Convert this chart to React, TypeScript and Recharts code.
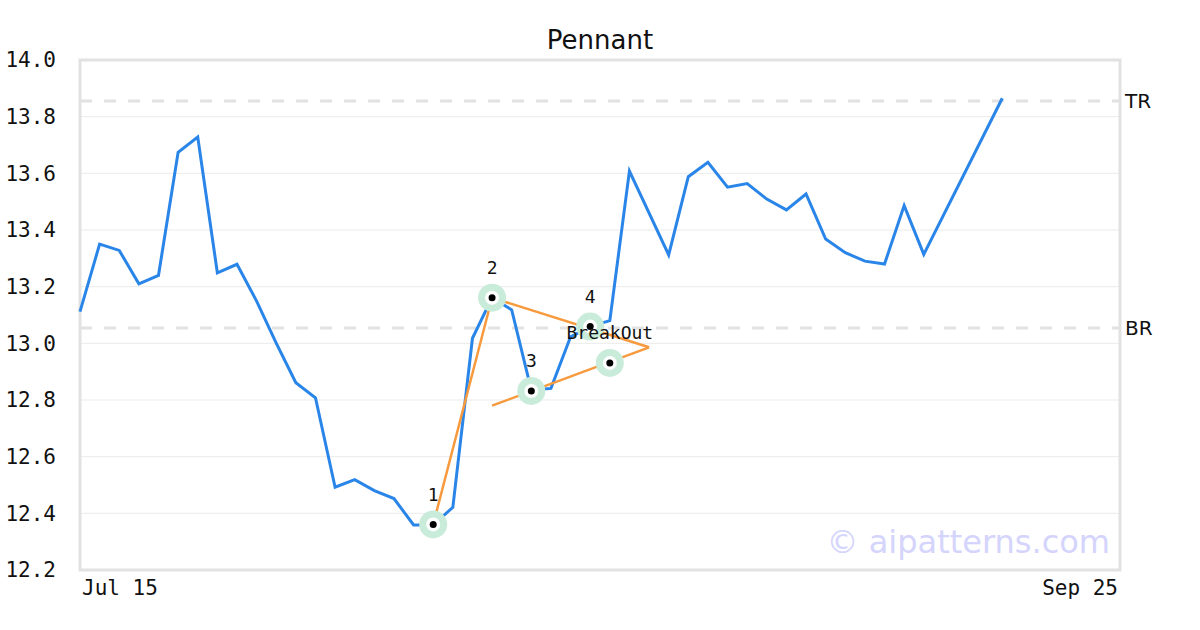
import {
  ComposedChart,
  Line,
  Scatter,
  XAxis,
  YAxis,
  CartesianGrid,
  ReferenceLine,
  ReferenceArea,
} from "recharts"

// closing prices, one per trading day (null = no vertex visible)
const prices: (number | null)[] = [
  13.112, 13.35, 13.328, 13.21, 13.24, 13.674, 13.728, 13.249, 13.279, 13.149,
  13.001, 12.861, 12.808, 12.492, 12.519, 12.48, 12.452, 12.359, 12.359, 12.421,
  13.018, 13.161, 13.118, 12.835, 12.841, 13.023, 13.059, 13.08, 13.608, null,
  13.312, 13.588, 13.639, 13.551, 13.564, 13.509, 13.471, 13.527, 13.368, 13.32,
  13.29, 13.28, 13.486, 13.314, null, null, null, 13.865,
]

const xTicks = [0, 53]
const xTickLabels = ["Jul 15", "Sep 25"]
const yTicks = [12.2, 12.4, 12.6, 12.8, 13.0, 13.2, 13.4, 13.6, 13.8, 14.0]

const topResistance = 13.855
const bottomResistance = 13.054

// pattern pivots
const pivotX = [18, 21, 23, 26, 27]
const pivotY = [12.361, 13.161, 12.832, 13.059, 12.931]
const pivotLabels = ["1", "2", "3", "4", "BreakOut"]

// pennant outline
const upperX = [18, 21, 29]
const upperY = [12.361, 13.161, 12.986]
const lowerX = [21, 29]
const lowerY = [12.78, 12.986]

const MONO = "DejaVu Sans Mono"
const SANS = "DejaVu Sans"

const priceData = prices
  .map((p, i) => ({ x: i, price: p }))
  .filter((d) => d.price !== null)
const upperData = upperX.map((x, i) => ({ x, upper: upperY[i] }))
const lowerData = lowerX.map((x, i) => ({ x, lower: lowerY[i] }))
const pivotData = pivotX.map((x, i) => ({
  x,
  pivot: pivotY[i],
  label: pivotLabels[i],
}))

function PivotMarker(props: any) {
  const { cx, cy, payload } = props
  return (
    <g>
      <circle cx={cx} cy={cy} r={14} fill="#c8ecd9" />
      <circle cx={cx} cy={cy} r={7} fill="#ffffff" />
      <circle cx={cx} cy={cy} r={3.5} fill="#000000" />
      <text
        x={cx}
        y={cy - 30}
        dy="0.355em"
        textAnchor="middle"
        fontFamily={MONO}
        fontSize={18}
        fill="#111"
      >
        {payload.label}
      </text>
    </g>
  )
}

function XTick(props: any) {
  const { x, y, payload } = props
  const first = payload.value === xTicks[0]
  return (
    <text
      x={first ? x + 2 : x - 2}
      y={y}
      dy="0.71em"
      textAnchor={first ? "start" : "end"}
      fontFamily={MONO}
      fontSize={21}
      fill="#111"
    >
      {xTickLabels[xTicks.indexOf(payload.value)]}
    </text>
  )
}

export default function App() {
  return (
    <div
      style={{
        position: "fixed",
        left: 0,
        top: 0,
        width: 1200,
        height: 630,
        background: "#fff",
      }}
    >
      <div
        style={{
          position: "absolute",
          left: 0,
          top: 27,
          width: 1200,
          textAlign: "center",
          fontFamily: SANS,
          fontSize: 26,
          lineHeight: 1,
          color: "#111",
        }}
      >
        Pennant
      </div>
      <ComposedChart
        width={1200}
        height={630}
        margin={{ top: 60, right: 80, left: 0, bottom: 0 }}
      >
        <CartesianGrid vertical={false} stroke="#ebebeb" strokeWidth={1} />
        <XAxis
          type="number"
          dataKey="x"
          domain={[0, 53]}
          ticks={xTicks}
          tick={<XTick />}
          tickLine={false}
          axisLine={false}
          tickSize={0}
          tickMargin={10}
          height={60}
          allowDuplicatedCategory={false}
        />
        <YAxis
          type="number"
          domain={[12.2, 14.0]}
          ticks={yTicks}
          tickFormatter={(v: number) => v.toFixed(1)}
          tick={{ fontFamily: MONO, fontSize: 21, fill: "#111" }}
          tickLine={false}
          axisLine={false}
          tickSize={0}
          tickMargin={24}
          width={80}
          interval={0}
        />
        <ReferenceArea
          x1={0}
          x2={53}
          y1={12.2}
          y2={14.0}
          fill="none"
          stroke="#e2e2e2"
          strokeWidth={3}
          ifOverflow="visible"
        />
        <ReferenceLine
          y={topResistance}
          stroke="#e2e2e2"
          strokeWidth={3}
          strokeDasharray="12 12"
          label={{
            value: "TR",
            position: "right",
            fontFamily: SANS,
            fontSize: 20,
            fill: "#111",
          }}
        />
        <ReferenceLine
          y={bottomResistance}
          stroke="#e2e2e2"
          strokeWidth={3}
          strokeDasharray="12 12"
          label={{
            value: "BR",
            position: "right",
            fontFamily: SANS,
            fontSize: 20,
            fill: "#111",
          }}
        />
        <Line
          data={priceData}
          dataKey="price"
          stroke="#2a85e8"
          strokeWidth={3}
          dot={false}
          activeDot={false}
          isAnimationActive={false}
        />
        <Line
          data={upperData}
          dataKey="upper"
          stroke="#f79a3e"
          strokeWidth={2.5}
          dot={false}
          activeDot={false}
          isAnimationActive={false}
        />
        <Line
          data={lowerData}
          dataKey="lower"
          stroke="#f79a3e"
          strokeWidth={2.5}
          dot={false}
          activeDot={false}
          isAnimationActive={false}
        />
        <Scatter
          data={pivotData}
          dataKey="pivot"
          shape={<PivotMarker />}
          isAnimationActive={false}
        />
      </ComposedChart>
      <div
        style={{
          position: "absolute",
          left: 0,
          top: 526,
          width: 1110,
          textAlign: "right",
          fontFamily: SANS,
          fontSize: 32,
          lineHeight: 1,
          color: "#d4d4fc",
          pointerEvents: "none",
        }}
      >
        © aipatterns.com
      </div>
    </div>
  )
}
